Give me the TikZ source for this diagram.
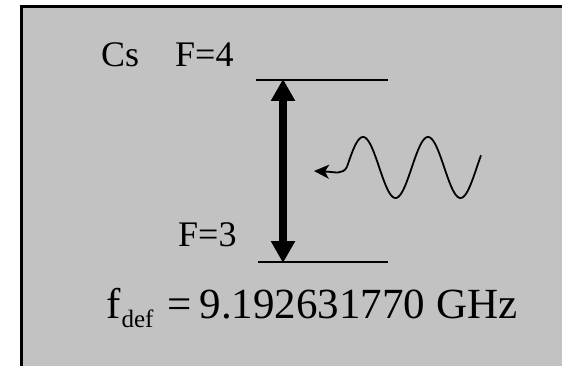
\documentclass[tikz,border=0pt]{standalone}
\usepackage{fontspec}
\setmainfont{Liberation Serif}
\usetikzlibrary{arrows.meta}
\definecolor{panel}{RGB}{194,194,194}
\begin{document}
\begin{tikzpicture}[x=1pt,y=-1pt,
  lbl/.style={anchor=base west,inner sep=0pt,font=\fontsize{36}{36}\selectfont},
  level/.style={line width=2pt},
  trans/.style={line width=8pt,{Triangle[length=22pt,width=23pt]}-{Triangle[length=22pt,width=23pt]},shorten <=-1pt,shorten >=-1pt},
  wave/.style={line width=1.8pt},
  photon/.style={line width=1.8pt,-{Stealth[length=15pt,width=14pt,inset=4pt]}}]
\useasboundingbox (0,0) rectangle (562,366);
\fill[panel] (21.5,6.5) rectangle (570,375);
\draw[line width=2.6pt] (21.5,380) -- (21.5,6.5) -- (570,6.5);
% labels
\node[lbl] (cs) at (101,67) {Cs};
\node[lbl] (f4) at (175,67) {F=4};
\node[lbl] (f3) at (178,247) {F=3};
\node[anchor=base west,inner sep=0pt,font=\fontsize{43}{43}\selectfont] (freq) at (106,318)
  {f\hspace{1pt}\raisebox{-9pt}{\fontsize{25}{25}\selectfont def}\hspace{14pt}=\hspace{8pt}9.192631770 GHz};
% levels
\coordinate (upL) at (256,80); \coordinate (upR) at (388,80);
\coordinate (dnL) at (258,262); \coordinate (dnR) at (388,262);
\draw[level] (upL) -- (upR);
\draw[level] (dnL) -- (dnR);
\coordinate (up) at (283,80); \coordinate (dn) at (283,262);
\draw[trans] (up) -- (dn);
% microwave
\coordinate (ws) at (347,167);
\coordinate (wtip) at (314,171);
\draw[wave] plot[domain=347:481,samples=120,smooth] (\x,{167.5+30.5*cos((\x-460.5)*5.53846)});
\draw[photon] (ws) .. controls (342,175) and (336,172) .. (wtip);
\end{tikzpicture}
\end{document}
